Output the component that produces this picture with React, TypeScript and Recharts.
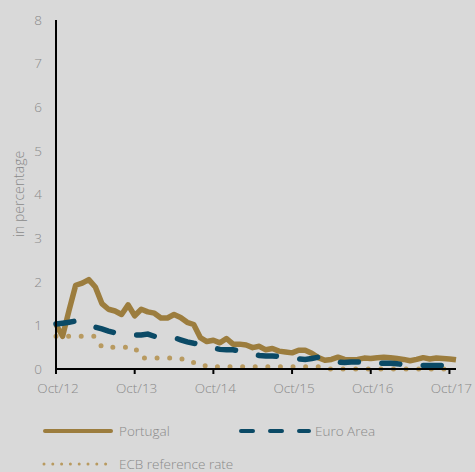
import React from 'react';
import { LineChart, Line, XAxis, YAxis } from 'recharts';

// Monthly series, Oct/12 .. Nov/17
const portugal = [
  1.02, 0.75, 1.35, 1.92, 1.97, 2.05, 1.88, 1.5, 1.37, 1.33, 1.25, 1.47,
  1.22, 1.37, 1.31, 1.28, 1.17, 1.17, 1.25, 1.18, 1.07, 1.02, 0.72, 0.63,
  0.66, 0.6, 0.7, 0.57, 0.57, 0.55, 0.49, 0.52, 0.44, 0.47, 0.41, 0.39,
  0.37, 0.43, 0.43, 0.36, 0.26, 0.2, 0.22, 0.27, 0.22, 0.21, 0.22, 0.25,
  0.24, 0.26, 0.27, 0.26, 0.24, 0.22, 0.19, 0.22, 0.26, 0.23, 0.25, 0.24,
  0.23, 0.21,
];

const euroArea = [
  1.03, 1.05, 1.07, 1.1, 1.02, 1.0, 0.96, 0.92, 0.87, 0.83, 0.81, 0.79,
  0.78, 0.78, 0.8, 0.75, 0.74, 0.72, 0.72, 0.67, 0.62, 0.59, 0.57, 0.52,
  0.48, 0.45, 0.44, 0.44, 0.41, 0.38, 0.34, 0.31, 0.3, 0.3, 0.29, 0.27,
  0.25, 0.23, 0.22, 0.24, 0.27, 0.22, 0.18, 0.16, 0.15, 0.16, 0.16, 0.15,
  0.14, 0.13, 0.13, 0.13, 0.12, 0.1, 0.09, 0.08, 0.08, 0.08, 0.08, 0.08,
  0.07,
];

const ecbRate = [
  0.75, 0.75, 0.75, 0.75, 0.75, 0.75, 0.75, 0.5, 0.5, 0.5, 0.5, 0.5,
  0.5, 0.25, 0.25, 0.25, 0.25, 0.25, 0.25, 0.25, 0.15, 0.15, 0.15, 0.05,
  0.05, 0.05, 0.05, 0.05, 0.05, 0.05, 0.05, 0.05, 0.05, 0.05, 0.05, 0.05,
  0.05, 0.05, 0.05, 0.05, 0.05, 0, 0, 0, 0, 0, 0, 0,
  0, 0, 0, 0, 0, 0, 0, 0, 0, 0, 0, 0,
  0, 0,
];

const tickMonths = [0, 12, 24, 36, 48, 60];
const tickLabels = ['Oct/12', 'Oct/13', 'Oct/14', 'Oct/15', 'Oct/16', 'Oct/17'];
const yTicks = [0, 1, 2, 3, 4, 5, 6, 7, 8];

const gold = '#9c7d3e';
const navy = '#0b4a66';
const tan = '#b89a60';
const grey = '#8a8a8a';
const font = '"Open Sans", sans-serif';

const data = portugal.map((v, i) => ({
  m: i,
  portugal: v,
  euro: euroArea[i],
  ecb: ecbRate[i],
}));

export default function App() {
  return (
    <div style={{ position: 'relative', width: 475, height: 472, background: '#d9d9d9', fontFamily: font }}>
      <style>{'body{margin:0;background:#d9d9d9}'}</style>
      <LineChart width={475} height={400} data={data} margin={{ top: 20, right: 19, left: 0, bottom: 0 }}>
        <XAxis
          dataKey="m"
          type="number"
          domain={[0, 61]}
          ticks={tickMonths}
          tickFormatter={(v) => tickLabels[tickMonths.indexOf(v)]}
          height={31}
          axisLine={{ stroke: '#000', strokeWidth: 2 }}
          tickLine={{ stroke: '#000', strokeWidth: 2 }}
          tickSize={5}
          tickMargin={9}
          tick={{ fill: grey, fontSize: 13.5, fontWeight: 300, fontFamily: font, dx: 2 }}
        />
        <YAxis
          domain={[0, 8]}
          ticks={yTicks}
          width={56}
          axisLine={{ stroke: '#000', strokeWidth: 2 }}
          tickLine={false}
          tickMargin={8}
          tick={{ fill: grey, fontSize: 13.5, fontWeight: 300, fontFamily: font }}
        />
        <Line
          dataKey="ecb"
          type="linear"
          stroke={tan}
          strokeWidth={5}
          strokeLinecap="round"
          strokeDasharray="0 12.6"
          dot={false}
          isAnimationActive={false}
        />
        <Line
          dataKey="portugal"
          type="linear"
          stroke={gold}
          strokeWidth={5.5}
          strokeLinejoin="round"
          dot={false}
          isAnimationActive={false}
        />
        <Line
          dataKey="euro"
          type="linear"
          stroke={navy}
          strokeWidth={5.5}
          strokeLinecap="round"
          strokeDasharray="18 23.5"
          dot={false}
          isAnimationActive={false}
        />
      </LineChart>
      <div
        style={{
          position: 'absolute',
          left: 18,
          top: 194,
          transform: 'translate(-50%, -50%) rotate(-90deg)',
          whiteSpace: 'nowrap',
          fontSize: 14,
          fontWeight: 300,
          color: grey,
        }}
      >
        in percentage
      </div>
      <svg width={475} height={72} style={{ position: 'absolute', left: 0, top: 400 }}>
        <line x1={45} y1={31} x2={111} y2={31} stroke={gold} strokeWidth={4} strokeLinecap="round" />
        <text x={119} y={35.5} fill={grey} fontSize={13.5} fontWeight={300} fontFamily={font}>Portugal</text>
        <line x1={241} y1={31} x2={309} y2={31} stroke={navy} strokeWidth={4} strokeLinecap="round" strokeDasharray="12 17" />
        <text x={315} y={35.5} fill={grey} fontSize={13.5} fontWeight={300} fontFamily={font}>Euro Area</text>
        <line x1={44} y1={64} x2={106} y2={64} stroke={tan} strokeWidth={3} strokeLinecap="round" strokeDasharray="0 8.8" />
        <text x={119} y={68.5} fill={grey} fontSize={13.5} fontWeight={300} fontFamily={font}>ECB reference rate</text>
      </svg>
    </div>
  );
}
